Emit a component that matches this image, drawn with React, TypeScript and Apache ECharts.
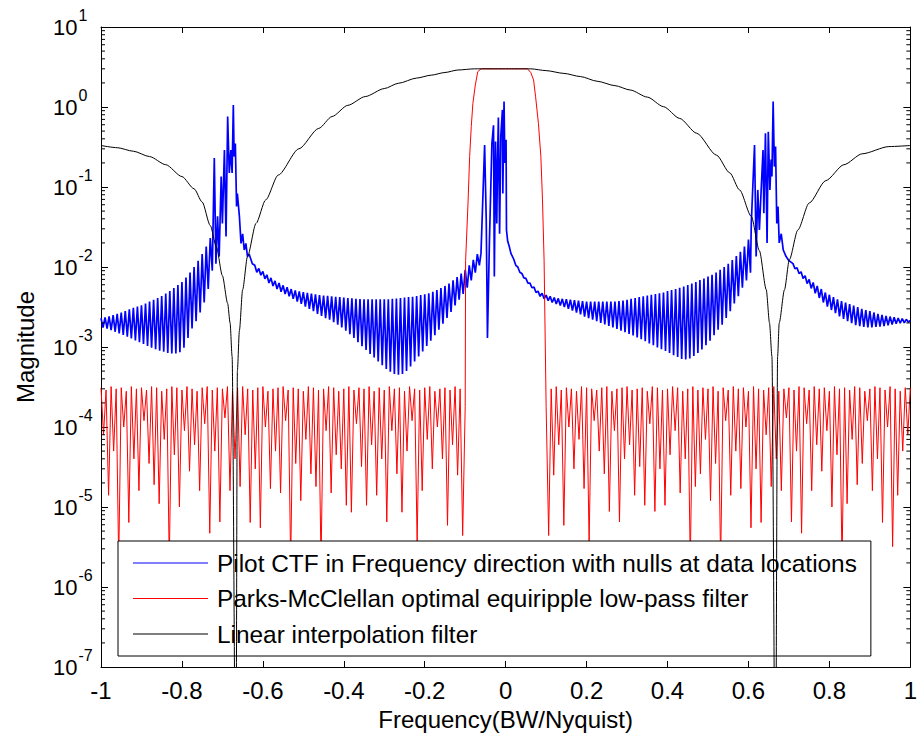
import { useEffect, useRef } from 'react';
import * as echarts from 'echarts';

const FONT = '"Liberation Sans", Arial, Helvetica, sans-serif';

const SERIES_NAMES = [
  'Pilot CTF in Frequency direction with nulls at data locations',
  'Parks-McClellan optimal equiripple low-pass filter',
  'Linear interpolation filter',
];

// ---------- Linear interpolation filter (black) ----------
const blackFreq = [
  -1.0, -0.96, -0.92, -0.88, -0.84, -0.8, -0.77, -0.75, -0.73, -0.715,
  -0.7, -0.687, -0.681, -0.676, -0.6667, -0.663, -0.658, -0.65, -0.638, -0.617,
  -0.593, -0.562, -0.511, -0.462, -0.429, -0.39, -0.347, -0.3, -0.265, -0.22,
  -0.184, -0.15, -0.118, -0.077, 0, 0.062, 0.1, 0.144, 0.185, 0.226,
  0.27, 0.308, 0.35, 0.39, 0.43, 0.472, 0.521, 0.554, 0.578, 0.607,
  0.627, 0.644, 0.652, 0.658, 0.6667, 0.672, 0.676, 0.689, 0.701, 0.722,
  0.75, 0.791, 0.836, 0.881, 0.947, 1.0,
];
const blackMag = [
  0.33, 0.31, 0.28, 0.24, 0.19, 0.135, 0.095, 0.065, 0.033, 0.018,
  0.0078, 0.0035, 0.002, 0.00076, 1e-9, 0.0005, 0.0016, 0.0052, 0.0135, 0.035,
  0.069, 0.141, 0.3, 0.54, 0.76, 1.05, 1.35, 1.7, 1.98, 2.3,
  2.5, 2.7, 2.9, 3.0, 3.0, 3.0, 2.85, 2.63, 2.4, 2.1,
  1.85, 1.63, 1.33, 1.01, 0.72, 0.47, 0.25, 0.15, 0.092, 0.043,
  0.016, 0.0052, 0.002, 0.00076, 1e-9, 0.00076, 0.002, 0.0052, 0.0123, 0.029,
  0.063, 0.12, 0.19, 0.26, 0.32, 0.33,
];

// ---------- Parks-McClellan filter (red) ----------
// stopband ripple: peaks (x1e-4) at start + 0.0125*i, dips (x1e-5) half a step later
const redStepStop = 0.0125;
const redLeftStart = -1.0;
const redRightStart = 0.1;
const redPeaksLeft = [
  3.1, 2.9, 3.2, 3.0, 3.1, 2.8, 3.2, 3.0, 3.1, 2.9,
  3.2, 3.1, 2.8, 3.0, 3.2, 3.1, 2.9, 3.2, 3.0, 2.8,
  3.1, 3.2, 2.9, 3.1, 3.0, 3.2, 2.8, 3.1, 3.2, 3.0,
  2.9, 3.1, 3.2, 2.8, 3.0, 3.1, 3.2, 2.9, 3.1, 3.0,
  2.8, 3.2, 3.1, 2.9, 3.0, 3.2, 3.1, 2.8, 3.0, 3.2,
  2.9, 3.1, 3.0, 3.2, 2.8, 3.1, 2.9, 3.2, 3.0, 3.1,
  2.8, 3.2, 3.0, 2.9, 3.1, 3.2, 2.8, 3.0, 3.1, 2.9,
  3.2, 3.0, 1.8,
];
const redDipsLeft = [
  8, 1.4, 5, 0.2, 10, 0.64, 4, 1.6, 12, 3.5,
  1.9, 1.1, 7, 0.2, 4.5, 1.0, 9, 2.8, 6, 1.6,
  11, 0.47, 5, 0.65, 13, 1.6, 4, 1.8, 8, 0.64,
  3, 0.55, 10, 1.7, 5, 1.5, 12, 0.2, 3.5, 1.2,
  7, 2.6, 1.8, 0.2, 9, 1.5, 4.5, 3, 1.05, 0.86,
  11, 3.2, 1.05, 6, 1.4, 4, 0.65, 9, 2.6, 0.86,
  5, 12, 0.36, 1.6, 7, 3, 10, 4, 0.59, 6,
  2.5, 0.44,
];
const redPeaksRight = [
  1.8, 3.0, 3.2, 2.9, 3.1, 3.0, 2.8, 3.2, 3.1, 3.0, 2.9,
  3.1, 3.2, 2.8, 3.0, 3.1, 3.2, 2.9, 3.0, 3.1, 2.8,
  3.2, 3.1, 2.9, 3.0, 3.2, 3.1, 2.8, 3.0, 3.2, 2.9,
  3.1, 3.0, 3.2, 2.8, 3.1, 2.9, 3.2, 3.0, 3.1, 2.8,
  3.2, 3.0, 2.9, 3.1, 3.2, 2.8, 3.0, 3.1, 2.9, 3.2,
  3.1, 2.9, 3.2, 3.0, 3.1, 2.8, 3.2, 3.0, 3.1, 2.9,
  3.2, 3.1, 2.8, 3.0, 3.2, 3.1, 2.9, 3.2, 3.0, 2.8,
  3.1, 3.1,
];
const redDipsRight = [
  0.44, 2.5, 6, 0.59, 10, 3, 7, 1.7, 0.36, 12,
  5, 2.6, 0.88, 9, 0.65, 4, 6, 1.4, 3.2, 1.05,
  11, 0.88, 3, 1.05, 4.5, 9, 1.5, 4, 0.2, 1.8,
  2.6, 7, 1.2, 3.5, 0.2, 12, 1.4, 5, 1.7, 10,
  0.55, 3, 0.64, 8, 1.8, 4, 1.6, 13, 0.65, 5,
  0.47, 11, 1.6, 6, 2.8, 9, 1.0, 4.5, 0.2, 1.1,
  7, 1.9, 3.5, 12, 1.6, 4, 0.64, 10, 0.32, 1.4,
  5, 8,
];
const redEdgeFreq = [
  -0.099, -0.093, -0.089, -0.085, -0.081, -0.075, -0.069, -0.061, 0, 0.054,
  0.062, 0.069, 0.074, 0.081, 0.087, 0.091, 0.095,
];
const redEdgeMag = [
  0.012, 0.063, 0.24, 0.57, 1.11, 1.88, 2.76, 3.0, 3.0, 3.0,
  2.7, 2.18, 1.34, 0.62, 0.24, 0.069, 0.012,
];

// ---------- Pilot CTF (blue) ----------
// oscillating bands: upper envelope (x1e-3) at start + 0.01*i, lower envelope (x1e-3) at start + 0.005 + 0.01*i
const blueStep = 0.01;
const blueOuterLeftStart = -1.0;
const blueOuterLeftUpper = [
  2.3, 2.35, 2.42, 2.5, 2.6, 2.7, 2.82, 2.95, 3.08, 3.2,
  3.33, 3.5, 3.7, 3.9, 4.1, 4.35, 4.65, 5.0, 5.45, 5.95,
  6.5, 7.4, 8.5, 10.0, 12.0, 14.5, 18.0, 23.0,
];
const blueOuterLeftLower = [
  1.75, 1.7, 1.63, 1.55, 1.48, 1.42, 1.35, 1.28, 1.21, 1.15,
  1.09, 1.03, 0.98, 0.94, 0.9, 0.87, 0.84, 0.83, 0.83, 0.86,
  0.98, 1.3, 1.7, 2.1, 2.7, 3.6, 5.3, 9.0,
];
const blueLeftPeakFreq = [
  -0.72, -0.716, -0.712, -0.708, -0.703, -0.7, -0.695, -0.691, -0.687, -0.683,
  -0.679, -0.676, -0.673, -0.671, -0.668, -0.665, -0.663, -0.658, -0.654, -0.65,
  -0.646, -0.642, -0.638, -0.634, -0.626,
];
const blueLeftPeakMag = [
  0.23, 0.011, 0.043, 0.0135, 0.135, 0.035, 0.29, 0.024, 0.76, 0.15,
  0.29, 0.15, 1.06, 0.24, 0.35, 0.057, 0.083, 0.043, 0.0197, 0.026,
  0.0163, 0.0197, 0.0135, 0.0145, 0.011,
];
const blueInnerLeftStart = -0.62;
const blueInnerLeftUpper = [
  10.5, 9.6, 8.8, 8.0, 7.3, 6.7, 6.3, 5.9, 5.6, 5.3,
  5.1, 4.95, 4.85, 4.75, 4.65, 4.55, 4.45, 4.4, 4.35, 4.3,
  4.25, 4.2, 4.15, 4.1, 4.05, 4.0, 3.98, 3.95, 3.95, 3.95,
  3.95, 3.95, 3.95, 3.95, 4.0, 4.05, 4.1, 4.15, 4.2, 4.25,
  4.35, 4.45, 4.55, 4.7, 4.9, 5.15, 5.45, 5.8, 6.2, 6.8,
  7.5, 8.3, 9.2, 10.5, 12.3, 14.5,
];
const blueInnerLeftLower = [
  8.6, 7.9, 7.1, 6.3, 5.8, 5.3, 4.9, 4.6, 4.3, 4.0,
  3.7, 3.45, 3.2, 3.0, 2.8, 2.6, 2.45, 2.3, 2.2, 2.05,
  1.9, 1.75, 1.6, 1.45, 1.3, 1.15, 1.02, 0.92, 0.82, 0.74,
  0.66, 0.59, 0.53, 0.49, 0.46, 0.45, 0.46, 0.5, 0.57, 0.66,
  0.76, 0.88, 1.03, 1.2, 1.4, 1.65, 1.95, 2.3, 2.75, 3.3,
  3.9, 4.6, 5.5, 6.8, 8.5, 10.5,
];
const blueCenterFreq = [
  -0.061, -0.052, -0.048, -0.045, -0.04, -0.034, -0.03, -0.028, -0.025, -0.022,
  -0.02, -0.018, -0.015, -0.012, -0.008, -0.007, -0.004, -0.002, 0.001, 0.002,
  0.005, 0.009, 0.013,
];
const blueCenterMag = [
  0.0148, 0.335, 0.039, 0.0013, 0.022, 0.35, 0.59, 0.0076, 0.37, 0.035,
  0.22, 0.74, 0.026, 0.43, 0.92, 0.083, 1.17, 0.2, 0.39, 0.029,
  0.021, 0.018, 0.0148,
];
const blueInnerRightStart = 0.02;
const blueInnerRightUpper = [
  12.5, 10.0, 8.3, 7.2, 6.3, 5.6, 5.0, 4.7, 4.45, 4.3,
  4.15, 4.05, 4.0, 3.95, 3.9, 3.85, 3.8, 3.75, 3.7, 3.7,
  3.7, 3.7, 3.7, 3.7, 3.7, 3.7, 3.75, 3.8, 3.9, 4.0,
  4.1, 4.2, 4.3, 4.4, 4.5, 4.6, 4.7, 4.8, 5.0, 5.15,
  5.3, 5.5, 5.7, 5.95, 6.2, 6.5, 6.85, 7.2, 7.6, 8.0,
  8.5, 9.2, 10.0, 11.0, 12.2, 13.7, 15.5, 18.0, 22.0,
];
const blueInnerRightLower = [
  10.5, 8.6, 7.3, 6.3, 5.5, 4.8, 4.3, 4.0, 3.8, 3.6,
  3.45, 3.3, 3.15, 3.0, 2.85, 2.7, 2.55, 2.4, 2.3, 2.2,
  2.1, 2.0, 1.92, 1.84, 1.76, 1.68, 1.6, 1.53, 1.46, 1.39,
  1.32, 1.25, 1.18, 1.11, 1.05, 0.99, 0.94, 0.89, 0.84, 0.79,
  0.75, 0.71, 0.7, 0.72, 0.77, 0.84, 0.93, 1.05, 1.2, 1.4,
  1.65, 1.9, 2.3, 2.8, 3.5, 4.3, 5.5, 6.8, 8.5,
];
const blueRightPeakFreq = [
  0.607, 0.615, 0.619, 0.623, 0.627, 0.631, 0.636, 0.638, 0.642, 0.646,
  0.649, 0.653, 0.656, 0.658, 0.661, 0.664, 0.667, 0.67, 0.673, 0.676,
  0.681, 0.686, 0.693, 0.7,
];
const blueRightPeakMag = [
  0.035, 0.335, 0.0135, 0.092, 0.029, 0.083, 0.29, 0.047, 0.47, 0.02,
  0.49, 0.092, 0.22, 0.135, 1.17, 0.18, 0.32, 0.035, 0.057, 0.02,
  0.026, 0.0163, 0.0135, 0.012,
];
const blueOuterRightStart = 0.71;
const blueOuterRightUpper = [
  11.0, 9.8, 8.7, 7.8, 7.0, 6.4, 5.8, 5.3, 4.8, 4.5,
  4.2, 3.95, 3.75, 3.6, 3.45, 3.3, 3.15, 3.0, 2.9, 2.8,
  2.7, 2.6, 2.52, 2.45, 2.4, 2.35, 2.3, 2.27, 2.22, 2.15,
];
const blueOuterRightLower = [
  9.5, 8.3, 7.2, 6.2, 5.4, 4.7, 4.1, 3.6, 3.2, 2.9,
  2.65, 2.42, 2.25, 2.1, 1.98, 1.88, 1.82, 1.78, 1.76, 1.76,
  1.78, 1.8, 1.83, 1.87, 1.91, 1.95, 1.98, 2.0, 2.05,
];

// ---------- axes ----------
const xMin = -1;
const xMax = 1;
const xInterval = 0.2;
const yMin = 1e-7;
const yMax = 10;
const minorDecades = [-7, -6, -5, -4, -3, -2, -1, 0];
const minorMultipliers = [2, 3, 4, 5, 6, 7, 8, 9];

const rnd = (v: number) => Math.round(v * 1e6) / 1e6;

function interleave(
  start: number,
  step: number,
  upper: number[],
  upperScale: number,
  lower: number[],
  lowerScale: number
): number[][] {
  const out: number[][] = [];
  const n = Math.max(upper.length, lower.length);
  for (let i = 0; i < n; i++) {
    if (i < upper.length) out.push([rnd(start + step * i), upper[i] * upperScale]);
    if (i < lower.length) out.push([rnd(start + step / 2 + step * i), lower[i] * lowerScale]);
  }
  return out;
}

function pairs(xs: number[], ys: number[]): number[][] {
  return xs.map((x, i) => [x, ys[i]]);
}

function buildBlue(): number[][] {
  return [
    ...interleave(blueOuterLeftStart, blueStep, blueOuterLeftUpper, 1e-3, blueOuterLeftLower, 1e-3),
    ...pairs(blueLeftPeakFreq, blueLeftPeakMag),
    ...interleave(blueInnerLeftStart, blueStep, blueInnerLeftUpper, 1e-3, blueInnerLeftLower, 1e-3),
    ...pairs(blueCenterFreq, blueCenterMag),
    ...interleave(blueInnerRightStart, blueStep, blueInnerRightUpper, 1e-3, blueInnerRightLower, 1e-3),
    ...pairs(blueRightPeakFreq, blueRightPeakMag),
    ...interleave(blueOuterRightStart, blueStep, blueOuterRightUpper, 1e-3, blueOuterRightLower, 1e-3),
  ];
}

function buildRed(): number[][] {
  return [
    ...interleave(redLeftStart, redStepStop, redPeaksLeft, 1e-4, redDipsLeft, 1e-5),
    ...pairs(redEdgeFreq, redEdgeMag),
    ...interleave(redRightStart, redStepStop, redPeaksRight, 1e-4, redDipsRight, 1e-5),
  ];
}

function buildMinor(): number[][] {
  const out: number[][] = [];
  minorDecades.forEach((d) => {
    minorMultipliers.forEach((m) => out.push([xMin, m * Math.pow(10, d)]));
  });
  return out;
}

export default function App() {
  const ref = useRef<HTMLDivElement>(null);

  useEffect(() => {
    if (!ref.current) return;
    const chart = echarts.init(ref.current, undefined, { renderer: 'svg' });

    const axisCommon = {
      axisLine: { show: true, onZero: false, lineStyle: { color: '#000', width: 1 } },
      splitLine: { show: false },
    };

    const option: any = {
      animation: false,
      backgroundColor: '#fff',
      textStyle: { fontFamily: FONT },
      grid: { left: 101, right: 5, top: 27, bottom: 70, containLabel: false },
      xAxis: [
        {
          type: 'value',
          min: xMin,
          max: xMax,
          interval: xInterval,
          position: 'bottom',
          ...axisCommon,
          axisTick: { show: true, inside: true, length: 6, lineStyle: { color: '#000' } },
          axisLabel: {
            show: true,
            margin: 11,
            color: '#000',
            fontSize: 24,
            lineHeight: 24,
            fontFamily: FONT,
          },
          name: 'Frequency(BW/Nyquist)',
          nameLocation: 'middle',
          nameGap: 40,
          nameTextStyle: { color: '#000', fontSize: 24, lineHeight: 24, fontFamily: FONT },
        },
        {
          type: 'value',
          min: xMin,
          max: xMax,
          interval: xInterval,
          position: 'top',
          ...axisCommon,
          axisTick: { show: true, inside: true, length: 6, lineStyle: { color: '#000' } },
          axisLabel: { show: false },
        },
      ],
      yAxis: [
        {
          type: 'log',
          logBase: 10,
          min: yMin,
          max: yMax,
          position: 'left',
          ...axisCommon,
          axisTick: { show: true, inside: true, length: 7, lineStyle: { color: '#000' } },
          axisLabel: {
            show: true,
            margin: 48,
            align: 'left',
            color: '#000',
            fontFamily: FONT,
            formatter: (v: number) => `{b|10}{e|${Math.round(Math.log10(v))}}`,
            rich: {
              b: { fontSize: 22, lineHeight: 22, fontFamily: FONT, color: '#000' },
              e: {
                fontSize: 16,
                lineHeight: 16,
                fontFamily: FONT,
                color: '#000',
                padding: [0, 0, 24, 1],
              },
            },
          },
          name: 'Magnitude',
          nameLocation: 'middle',
          nameGap: 64,
          nameRotate: 90,
          nameTextStyle: { color: '#000', fontSize: 24, lineHeight: 24, fontFamily: FONT },
        },
        {
          type: 'log',
          logBase: 10,
          min: yMin,
          max: yMax,
          position: 'right',
          ...axisCommon,
          axisTick: { show: true, inside: true, length: 7, lineStyle: { color: '#000' } },
          axisLabel: { show: false },
        },
      ],
      legend: {
        data: SERIES_NAMES.map((name) => ({ name, icon: 'rect' })),
        orient: 'vertical',
        left: 118,
        top: 541,
        padding: [10, 14, 10, 15],
        itemGap: 11.5,
        itemWidth: 75,
        itemHeight: 1,
        backgroundColor: '#fff',
        borderColor: '#000',
        borderWidth: 1,
        borderRadius: 0,
        textStyle: { color: '#000', fontSize: 24.4, lineHeight: 24, fontFamily: FONT, padding: [0, 0, 0, 4] },
      },
      series: [
        {
          name: SERIES_NAMES[0],
          type: 'line',
          data: buildBlue(),
          symbol: 'none',
          lineStyle: { color: '#0000ff', width: 1.7 },
          itemStyle: { color: '#0000ff' },
          clip: true,
          z: 2,
        },
        {
          name: SERIES_NAMES[1],
          type: 'line',
          data: buildRed(),
          symbol: 'none',
          lineStyle: { color: '#ff0000', width: 1 },
          itemStyle: { color: '#ff0000' },
          clip: true,
          z: 3,
        },
        {
          name: SERIES_NAMES[2],
          type: 'line',
          data: pairs(blackFreq, blackMag),
          symbol: 'none',
          smooth: 0.25,
          smoothMonotone: 'x',
          lineStyle: { color: '#000000', width: 1 },
          itemStyle: { color: '#000000' },
          clip: true,
          z: 4,
        },
        {
          name: 'minorTicks',
          type: 'custom',
          silent: true,
          clip: false,
          z: 5,
          data: buildMinor(),
          renderItem: (_params: any, api: any) => {
            const v = api.value(1);
            const l = api.coord([xMin, v]);
            const r = api.coord([xMax, v]);
            return {
              type: 'group',
              children: [
                { type: 'line', shape: { x1: l[0], y1: l[1], x2: l[0] + 4, y2: l[1] }, style: { stroke: '#000', lineWidth: 1 } },
                { type: 'line', shape: { x1: r[0] - 4, y1: r[1], x2: r[0], y2: r[1] }, style: { stroke: '#000', lineWidth: 1 } },
              ],
            };
          },
        },
      ],
    };

    chart.setOption(option);
    return () => {
      chart.dispose();
    };
  }, []);

  return (
    <div
      ref={ref}
      style={{ position: 'absolute', left: 0, top: 0, width: 920, height: 737, background: '#fff' }}
    />
  );
}
